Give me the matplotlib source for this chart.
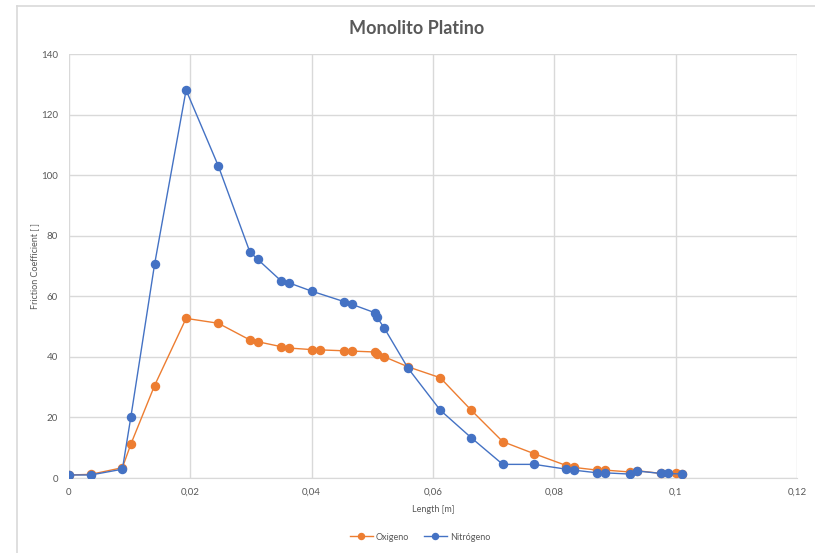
import matplotlib
matplotlib.use("Agg")
import matplotlib.pyplot as plt
from matplotlib.lines import Line2D
from matplotlib.ticker import FuncFormatter

plt.rcParams['font.family'] = ['Lato', 'DejaVu Sans']

# Oxygen series
x_oxigeno = [0.0, 0.0036, 0.0088, 0.0102, 0.0141, 0.0193, 0.0246, 0.0298, 0.0311,
             0.0349, 0.0363, 0.0400, 0.0414, 0.0454, 0.0467, 0.0505, 0.0507, 0.0520,
             0.0559, 0.0612, 0.0663, 0.0715, 0.0767, 0.0820, 0.0832, 0.0871, 0.0884,
             0.0924, 0.0937, 0.0976, 0.1000, 0.1011]
y_oxigeno = [1.0, 1.2, 3.4, 11.2, 30.5, 52.7, 51.1, 45.6, 45.0,
             43.4, 42.9, 42.4, 42.3, 42.0, 41.9, 41.6, 41.0, 40.0,
             36.7, 33.1, 22.4, 12.0, 8.0, 4.1, 3.5, 2.6, 2.6,
             2.0, 2.4, 1.5, 1.5, 1.3]

# Nitrogen series
x_nitrogeno = [0.0, 0.0036, 0.0088, 0.0102, 0.0141, 0.0193, 0.0246, 0.0298, 0.0311,
               0.0349, 0.0363, 0.0400, 0.0454, 0.0467, 0.0505, 0.0507, 0.0520,
               0.0559, 0.0612, 0.0663, 0.0715, 0.0767, 0.0820, 0.0832, 0.0871, 0.0884,
               0.0924, 0.0937, 0.0976, 0.0988, 0.1011]
y_nitrogeno = [1.0, 1.0, 2.9, 20.2, 70.5, 128.1, 103.1, 74.7, 72.2,
               65.2, 64.4, 61.7, 58.2, 57.3, 54.5, 53.3, 49.4,
               36.2, 22.4, 13.3, 4.5, 4.5, 2.9, 2.6, 1.7, 1.7,
               1.3, 2.3, 1.5, 1.5, 1.3]

x_ticks = [0, 0.02, 0.04, 0.06, 0.08, 0.10, 0.12]
y_ticks = [0, 20, 40, 60, 80, 100, 120, 140]

ORANGE = '#ED7D31'
BLUE = '#4472C4'
GRID = '#D9D9D9'
TEXT = '#595959'

fig = plt.figure(figsize=(8.15, 5.53), dpi=100)
ax = fig.add_axes([69 / 815, 75 / 553, 728 / 815, 424 / 553])

ax.plot(x_oxigeno, y_oxigeno, color=ORANGE, lw=1.0, marker='o', ms=5.8,
        mec=ORANGE, mfc=ORANGE, label='Oxigeno', zorder=3)
ax.plot(x_nitrogeno, y_nitrogeno, color=BLUE, lw=1.0, marker='o', ms=5.8,
        mec=BLUE, mfc=BLUE, label='Nitrógeno', zorder=4)

ax.set_xlim(0, 0.12)
ax.set_ylim(0, 140)
ax.set_xticks(x_ticks)
ax.set_yticks(y_ticks)


def comma_fmt(v, _pos):
    s = f'{v:.2f}'.rstrip('0').rstrip('.')
    return s.replace('.', ',')


ax.xaxis.set_major_formatter(FuncFormatter(comma_fmt))
ax.yaxis.set_major_formatter(FuncFormatter(lambda v, p: f'{v:.0f}'))

ax.grid(True, color=GRID, lw=1.0, zorder=0)
ax.set_axisbelow(True)
for s in ax.spines.values():
    s.set_visible(False)
ax.spines['bottom'].set_visible(True)
ax.spines['bottom'].set_color(GRID)
ax.tick_params(length=0, colors=TEXT, labelsize=7, pad=8)
ax.tick_params(axis='x', pad=7)

ax.set_xlabel('Length [m]', fontsize=6.5, color=TEXT, labelpad=6)
ax.set_ylabel('Friction Coefficient [ ]', fontsize=6.5, color=TEXT, labelpad=1)

fig.text(417 / 815, 1 - 29 / 553, 'Monolito Platino', ha='center', va='center',
         fontsize=13, fontweight='bold', color=TEXT)

leg = fig.legend(loc='center', bbox_to_anchor=(420 / 815, 1 - 537 / 553), ncol=2,
                 frameon=False, fontsize=6.5, handlelength=2.6, columnspacing=1.6,
                 handletextpad=0.3, markerscale=0.75)
for t in leg.get_texts():
    t.set_color(TEXT)

# chart area frame
fig.add_artist(Line2D([17 / 815, 17 / 815], [0, 1 - 6 / 553], color=GRID, lw=1.2,
                      transform=fig.transFigure))
fig.add_artist(Line2D([17 / 815, 1], [1 - 6 / 553, 1 - 6 / 553], color=GRID, lw=1.2,
                      transform=fig.transFigure))

fig.savefig('out.png', dpi=100, facecolor='white')
